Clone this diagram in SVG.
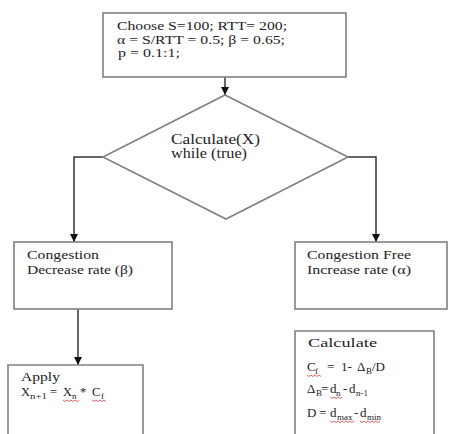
<svg xmlns="http://www.w3.org/2000/svg" width="450" height="434" viewBox="0 0 450 434">
<defs>
<style>
.box{fill:#fff;stroke:#808080;stroke-width:1.6}
.conn{fill:none;stroke:#333;stroke-width:1.5}
text{font-family:"Liberation Serif","Times New Roman",serif;fill:#222;font-size:13px}
.d{font-size:14px}
.a{font-size:12.5px}
.s{font-size:9px}
.sq{fill:none;stroke:#d04040;stroke-width:0.8}
</style>
<marker id="ah" markerWidth="10" markerHeight="10" refX="8" refY="4" orient="auto" markerUnits="userSpaceOnUse">
<path d="M0,0 L8,4 L0,8 Z" fill="#111"/>
</marker>
</defs>
<rect width="450" height="434" fill="#fff"/>

<g id="connectors">
<path class="conn" d="M225,77 V95" marker-end="url(#ah)"/>
<path class="conn" d="M103,157 H74 V242" marker-end="url(#ah)"/>
<path class="conn" d="M348,157 H376 V242" marker-end="url(#ah)"/>
<path class="conn" d="M78,309 V365" marker-end="url(#ah)"/>
</g>

<g id="init">
<rect class="box" x="103" y="13" width="243" height="64"/>
<text x="117" y="30" textLength="170" lengthAdjust="spacingAndGlyphs">Choose S=100; RTT= 200;</text>
<text x="117" y="43.5" textLength="168" lengthAdjust="spacingAndGlyphs">α = S/RTT = 0.5; β = 0.65;</text>
<text x="118" y="57" textLength="62" lengthAdjust="spacingAndGlyphs">p = 0.1:1;</text>
</g>

<g id="decision">
<path class="box" d="M225,95 L348,157 L226,219 L103,157 Z"/>
<text class="d" x="171" y="143.5" textLength="89" lengthAdjust="spacingAndGlyphs">Calculate(X)</text>
<text class="d" x="171" y="158" textLength="76" lengthAdjust="spacingAndGlyphs">while (true)</text>
</g>

<g id="congestion">
<rect class="box" x="14" y="242" width="158" height="67"/>
<text x="27" y="259" textLength="72" lengthAdjust="spacingAndGlyphs">Congestion</text>
<text x="27" y="274" textLength="106" lengthAdjust="spacingAndGlyphs">Decrease rate (β)</text>
</g>

<g id="congestion-free">
<rect class="box" x="295" y="242" width="152" height="67"/>
<text x="307" y="259" textLength="104" lengthAdjust="spacingAndGlyphs">Congestion Free</text>
<text x="307" y="274" textLength="104" lengthAdjust="spacingAndGlyphs">Increase rate (α)</text>
</g>

<g id="apply">
<path class="box" d="M8,440 V365 H143 V440"/>
<text class="a" x="21" y="381" textLength="39" lengthAdjust="spacingAndGlyphs">Apply</text>
<text class="a" x="21" y="395.5">X</text>
<text class="s" x="30" y="398.5" textLength="17" lengthAdjust="spacingAndGlyphs">n+1</text>
<text class="a" x="50" y="395.5">=</text>
<text class="a" x="63" y="395.5">X</text>
<text class="s" x="72" y="398.5">n</text>
<text class="a" x="80" y="395.5">*</text>
<text class="a" x="92" y="395.5">C</text>
<text class="s" x="101" y="398.5">f</text>
<path class="sq" d="M63,400 l2,1.5 l2,-1.5 l2,1.5 l2,-1.5 l2,1.5 l2,-1.5 l2,1.5 l2,-1.5"/>
<path class="sq" d="M92,400 l2,1.5 l2,-1.5 l2,1.5 l2,-1.5 l2,1.5 l2,-1.5 l2,1.5"/>
</g>

<g id="calculate">
<path class="box" d="M295,440 V331 H434 V440"/>
<text x="308" y="347" textLength="69" lengthAdjust="spacingAndGlyphs">Calculate</text>
<text x="307" y="371">C</text>
<text class="s" x="315" y="374">f</text>
<text x="327" y="371">=</text>
<text x="341" y="371">1-</text>
<text x="357" y="371">Δ</text>
<text class="s" x="366" y="374">B</text>
<text x="372" y="371">/D</text>
<path class="sq" d="M307,375 l2,1.5 l2,-1.5 l2,1.5 l2,-1.5 l2,1.5 l2,-1.5 l2,1.5"/>

<text x="307" y="393">Δ</text>
<text class="s" x="316" y="396">B</text>
<text x="321" y="393">=</text>
<text x="330" y="393">d</text>
<text class="s" x="336" y="396">n</text>
<text x="343" y="393">-</text>
<text x="349" y="393">d</text>
<text class="s" x="356" y="396">n-1</text>
<path class="sq" d="M330,397 l2,1.5 l2,-1.5 l2,1.5 l2,-1.5 l2,1.5 l2,-1.5"/>

<text x="307" y="417">D</text>
<text x="319" y="417">=</text>
<text x="330" y="417">d</text>
<text class="s" x="337" y="420">max</text>
<text x="354" y="417">-</text>
<text x="360" y="417">d</text>
<text class="s" x="367" y="420">min</text>
<path class="sq" d="M330,421 l2,1.5 l2,-1.5 l2,1.5 l2,-1.5 l2,1.5 l2,-1.5 l2,1.5 l2,-1.5 l2,1.5 l2,-1.5 l2,1.5 l2,-1.5"/>
<path class="sq" d="M360,421 l2,1.5 l2,-1.5 l2,1.5 l2,-1.5 l2,1.5 l2,-1.5 l2,1.5 l2,-1.5 l2,1.5 l2,-1.5"/>
</g>
</svg>
